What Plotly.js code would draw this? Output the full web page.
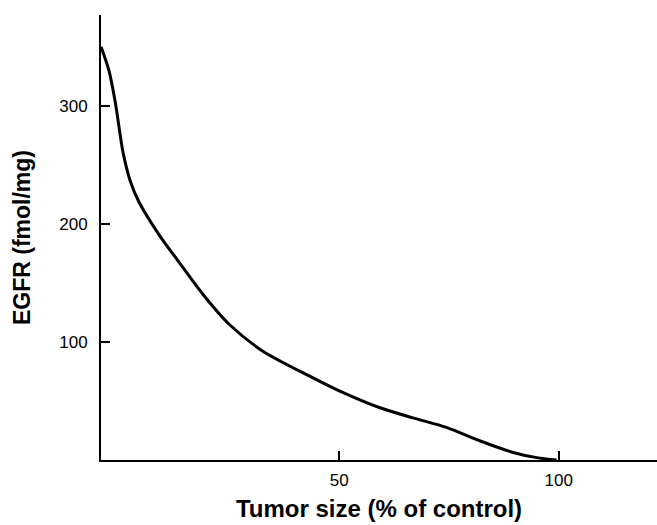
<!DOCTYPE html>
<html>
<head>
<meta charset="utf-8">
<script src="https://cdn.plot.ly/plotly-3.0.1.min.js"></script>
<style>html,body{margin:0;padding:0;background:#fff;}#chart{width:657px;height:525px;}</style>
</head>
<body>
<div id="chart"></div>
<script>
// Tumor size (% of control) vs EGFR (fmol/mg)
const tumorSize = [-4.3, -2.5, -1.0, 0.7, 2.4, 4.3, 8.9, 13.3, 19.0, 24.9, 32.5, 43.9, 50.0, 59.1, 67.0, 74.4, 82.0, 89.6, 95.0, 99.5];
const egfr      = [350, 330, 302, 261, 236, 219, 191, 168.5, 140, 115, 92.4, 69.8, 58.6, 44.5, 35.5, 27.6, 16.3, 6.4, 2.0, 0];
const xTicks = [50, 100];
const yTicks = [100, 200, 300];

const trace = {
  x: tumorSize, y: egfr, type: 'scatter', mode: 'lines',
  line: {color: '#000', width: 3, shape: 'spline', smoothing: 0.8},
  hoverinfo: 'none'
};
const font = {family: 'Liberation Sans, Arial, sans-serif', color: '#000'};
const layout = {
  width: 657, height: 525,
  margin: {l: 101, r: 0, t: 15, b: 65},
  paper_bgcolor: '#fff', plot_bgcolor: '#fff',
  showlegend: false,
  font: font,
  xaxis: {
    range: [-4.3, 122.4],
    tickvals: xTicks, ticktext: xTicks.map(String),
    ticks: 'inside', ticklen: 9, tickwidth: 2, tickcolor: '#000',
    showline: true, linecolor: '#000', linewidth: 2,
    showgrid: false, zeroline: false,
    tickfont: {family: font.family, size: 17, color: '#000'},
    ticklabelstandoff: 4,
    title: {text: 'Tumor size (% of control)', font: {family: font.family, size: 24, color: '#000', weight: 'bold'}, standoff: 11}
  },
  yaxis: {
    range: [0, 377],
    tickvals: yTicks, ticktext: yTicks.map(String),
    ticks: 'inside', ticklen: 9, tickwidth: 2, tickcolor: '#000',
    showline: true, linecolor: '#000', linewidth: 2,
    showgrid: false, zeroline: false,
    tickfont: {family: font.family, size: 17, color: '#000'},
    ticklabelstandoff: 8,
    title: {text: 'EGFR (fmol/mg)', font: {family: font.family, size: 23, color: '#000', weight: 'bold'}, standoff: 22}
  }
};
Plotly.newPlot('chart', [trace], layout, {displayModeBar: false, staticPlot: true});
</script>
</body>
</html>
